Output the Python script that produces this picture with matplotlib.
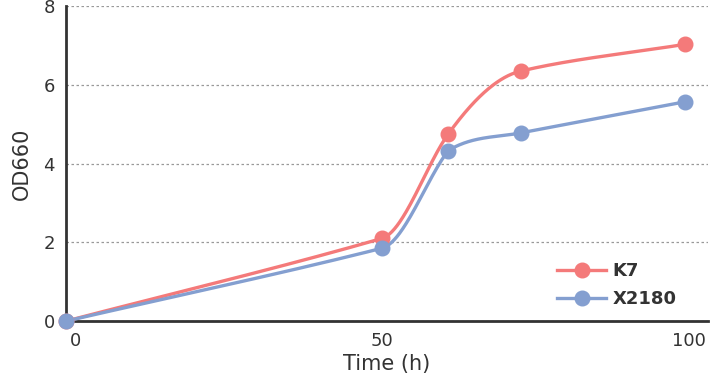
import numpy as np
import matplotlib
matplotlib.use('Agg')
import matplotlib.pyplot as plt
import matplotlib.transforms as mtrans
from matplotlib.lines import Line2D

# data
time_h = [0, 50, 60.5, 72, 98]
k7 = [0, 2.1, 4.75, 6.35, 7.03]
x2180 = [0, 1.85, 4.33, 4.78, 5.57]
series = ['K7', 'X2180']
colors = ['#f47a7a', '#849fd0']

plt.rcParams['font.family'] = ['DejaVu Sans']

fig = plt.figure(figsize=(7.1, 3.8), dpi=100)
ax = fig.add_axes([0.093, 0.155, 0.904, 0.829])
ax.set_xlim(0, 101.6)
ax.set_ylim(0, 8)

# smooth curve through the points (hermite in pixel space,
# tangent leans toward the longer neighbouring segment, no overshoot)
def smooth(xs, ys, n=80):
  pts = ax.transData.transform(np.column_stack([xs, ys]))
  px, py = pts[:, 0], pts[:, 1]
  dx = np.diff(px)
  sl = np.diff(py) / dx
  ln = np.hypot(dx, np.diff(py))
  m = len(px)
  tan = np.zeros(m)
  tan[0] = sl[0]
  tan[-1] = sl[-1]
  for i in range(1, m - 1):
    w0 = ln[i - 1]**4
    w1 = ln[i]**4
    tan[i] = (w0 * sl[i - 1] + w1 * sl[i]) / (w0 + w1)
  outx, outy = [px[0]], [py[0]]
  for i in range(m - 1):
    t0 = min(tan[i], 2.5 * sl[i])
    t1 = min(tan[i + 1], 2.5 * sl[i])
    s = np.linspace(0, 1, n)[1:]
    h = dx[i]
    h00 = 2*s**3 - 3*s**2 + 1
    h10 = s**3 - 2*s**2 + s
    h01 = -2*s**3 + 3*s**2
    h11 = s**3 - s**2
    outx.extend(px[i] + s * h)
    outy.extend(h00*py[i] + h10*h*t0 + h01*py[i+1] + h11*h*t1)
  out = ax.transData.inverted().transform(np.column_stack([outx, outy]))
  return out[:, 0], out[:, 1]

for name, vals, c in zip(series, [k7, x2180], colors):
  sx, sy = smooth(time_h, vals)
  ax.plot(sx, sy, color=c, lw=2.4, solid_capstyle='round', zorder=3)
  ax.plot(time_h, vals, 'o', color=c, ms=10.5, zorder=4, clip_on=False)

# axes styling
for s in ['top', 'right']:
  ax.spines[s].set_visible(False)
for s in ['left', 'bottom']:
  ax.spines[s].set_color('#333333')
  ax.spines[s].set_linewidth(2)
ax.set_yticks([0, 2, 4, 6, 8])
ax.set_xticks([0, 50, 100])
ax.set_xticklabels(['0', '50', '100'])
ax.tick_params(length=0, labelsize=13, labelcolor='#333333', pad=8)
labs = ax.get_xticklabels()
labs[0].set_ha('left')
labs[0].set_transform(labs[0].get_transform() + mtrans.ScaledTranslation(4/100, 0, fig.dpi_scale_trans))
labs[-1].set_ha('right')
labs[-1].set_transform(labs[-1].get_transform() + mtrans.ScaledTranslation(8/100, 0, fig.dpi_scale_trans))
ax.grid(axis='y', ls=(0, (2, 2)), color='#999999', lw=0.9)
ax.set_axisbelow(True)
ax.set_xlabel('Time (h)', fontsize=15, color='#333333', labelpad=3)
ax.set_ylabel('OD660', fontsize=15, color='#333333', labelpad=8)

handles = [Line2D([], [], color=c, lw=2.4, marker='o', ms=10.5) for c in colors]
leg = ax.legend(handles, series, loc='lower left', bbox_to_anchor=(0.74, -0.01),
                frameon=False, handlelength=2.7, fontsize=13, labelspacing=0.55,
                handletextpad=0.35)
for t in leg.get_texts():
  t.set_fontweight('bold')
  t.set_color('#333333')

fig.savefig('out.png', dpi=100)
